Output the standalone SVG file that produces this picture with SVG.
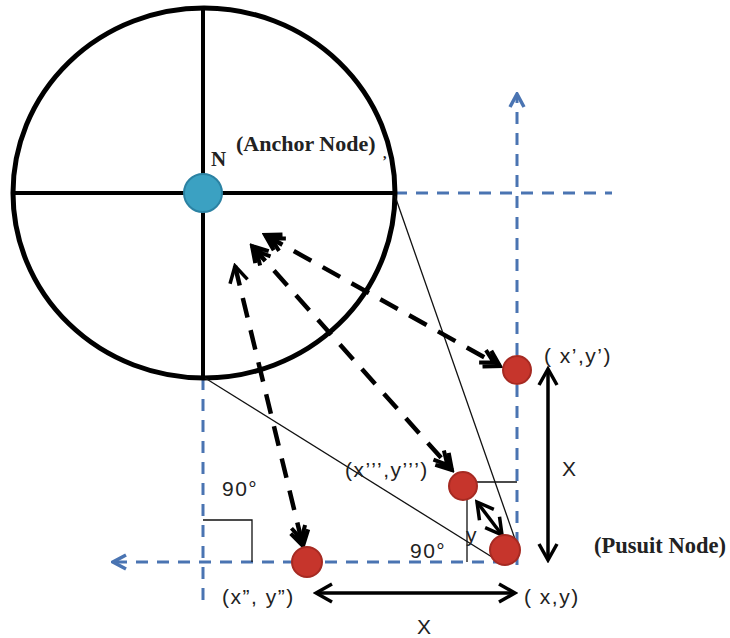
<svg xmlns="http://www.w3.org/2000/svg" width="730" height="638" viewBox="0 0 730 638">
<style>
.blue{fill:none;stroke:#4a74b2;stroke-width:3;stroke-dasharray:12 9}
.thin{fill:none;stroke:#111;stroke-width:1.3}
.dash{fill:none;stroke:#000;stroke-width:4.5;stroke-dasharray:20 13}
.solid{fill:none;stroke:#000;stroke-width:3.5}
.red{fill:#c6352c;stroke:#a62a22;stroke-width:2}
.ser{font-family:"Liberation Serif","DejaVu Serif",serif;font-weight:bold;fill:#222}
.san{font-family:"Liberation Sans",Arial,sans-serif;fill:#222;font-size:21px;letter-spacing:1.5px}
</style>
<defs>
<marker id="ad" viewBox="0 0 24 24" refX="21" refY="12" markerWidth="24" markerHeight="24" markerUnits="userSpaceOnUse" orient="auto-start-reverse">
<path d="M6,3 L21,12 L6,21 M1,5 L14,12 L1,19" fill="none" stroke="#000" stroke-width="4"/>
</marker>
<marker id="as" viewBox="0 0 24 24" refX="21" refY="12" markerWidth="24" markerHeight="24" markerUnits="userSpaceOnUse" orient="auto-start-reverse">
<path d="M5,3 L21,12 L5,21" fill="none" stroke="#000" stroke-width="3.5"/>
</marker>
<marker id="ab" viewBox="0 0 20 20" refX="18" refY="10" markerWidth="20" markerHeight="20" markerUnits="userSpaceOnUse" orient="auto-start-reverse">
<path d="M5,3 L18,10 L5,17" fill="none" stroke="#4a74b2" stroke-width="3.5"/>
</marker>
</defs>

<g id="axes">
<line class="blue" x1="517" y1="565" x2="517" y2="94" marker-end="url(#ab)"/>
<line class="blue" x1="395" y1="193" x2="612" y2="193"/>
<line class="blue" x1="505" y1="562" x2="113" y2="562" marker-end="url(#ab)"/>
<line class="blue" x1="203" y1="378" x2="203" y2="602"/>
</g>

<g id="anchor-circle">
<ellipse cx="204" cy="193" rx="191" ry="185" fill="none" stroke="#000" stroke-width="5"/>
<line x1="203" y1="8" x2="203" y2="378" stroke="#000" stroke-width="4"/>
<line x1="13" y1="193" x2="395" y2="193" stroke="#000" stroke-width="4"/>
</g>

<g id="connectors">
<line class="thin" x1="395" y1="196" x2="516" y2="542"/>
<line class="thin" x1="205" y1="378" x2="500" y2="562"/>
<polyline class="thin" points="203,520 252,520 252,562"/>
<polyline class="thin" points="517,482 467,482 467,562"/>
<line class="dash" x1="265" y1="235" x2="500" y2="366" marker-start="url(#ad)" marker-end="url(#ad)"/>
<line class="dash" x1="252" y1="246" x2="452" y2="470" marker-start="url(#ad)" marker-end="url(#ad)"/>
<line class="dash" x1="235" y1="266" x2="303" y2="546" marker-start="url(#as)" marker-end="url(#ad)"/>
<line class="solid" x1="548" y1="369" x2="548" y2="560" marker-start="url(#as)" marker-end="url(#as)"/>
<line class="solid" x1="316" y1="593" x2="515" y2="593" marker-start="url(#as)" marker-end="url(#as)"/>
<line class="solid" x1="477" y1="502" x2="502" y2="535" marker-start="url(#as)" marker-end="url(#as)"/>
</g>

<g id="anchor-node">
<circle cx="203" cy="193" r="19" fill="#3ba1c2" stroke="#2b82a3" stroke-width="2"/>
<text class="ser" x="211" y="166" font-size="21">N</text>
<text class="ser" x="236" y="151" font-size="22">(Anchor Node)</text>
<text class="ser" x="383" y="158" font-size="14">,</text>
</g>

<g id="node-x1">
<circle class="red" cx="517" cy="370" r="14"/>
<text class="san" x="544" y="363">( x’,y’)</text>
</g>

<g id="node-x3">
<circle class="red" cx="463" cy="486" r="14"/>
<text class="san" x="345" y="477">(x’’’,y’’’)</text>
</g>

<g id="node-xy">
<circle class="red" cx="505" cy="550" r="15"/>
<text class="san" x="524" y="604">( x,y)</text>
<text class="ser" x="594" y="553" font-size="22.5">(Pusuit Node)</text>
</g>

<g id="node-x2">
<circle class="red" cx="307" cy="562" r="15"/>
<text class="san" x="222" y="604">(x”, y”)</text>
</g>

<g id="labels">
<text class="san" x="222" y="496">90°</text>
<text class="san" x="410" y="558">90°</text>
<text class="san" x="562" y="476" font-size="22">X</text>
<text class="san" x="417" y="634" font-size="22">X</text>
<text class="san" x="466" y="542" font-size="17">y</text>
</g>
</svg>
